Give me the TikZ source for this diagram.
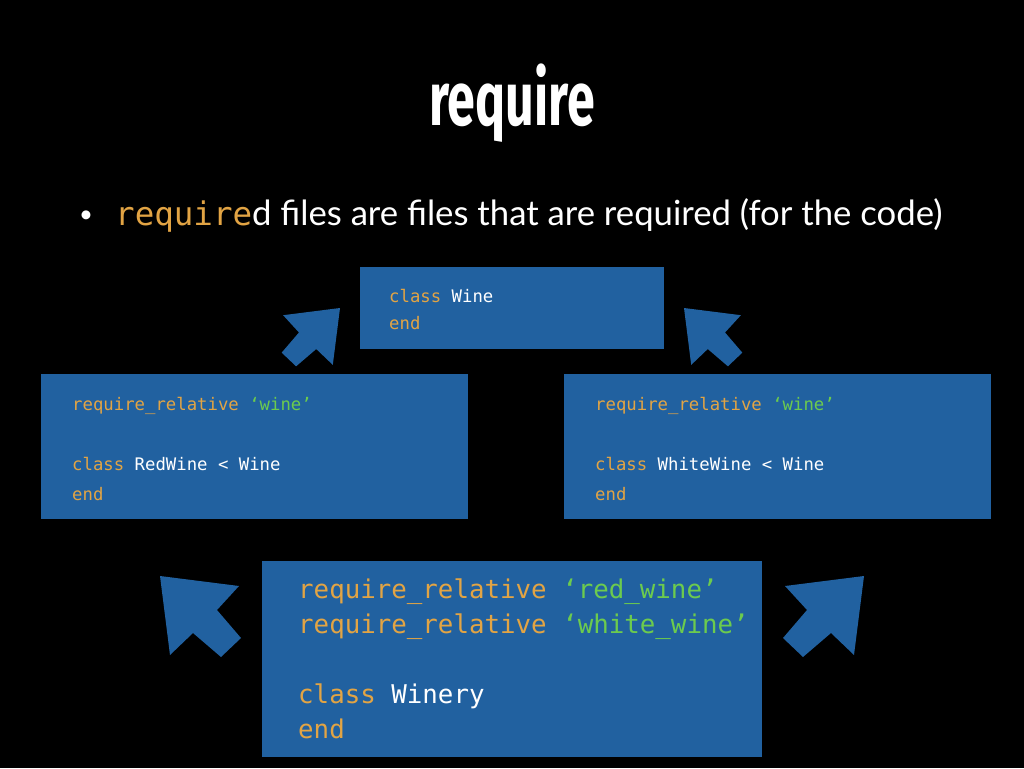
\documentclass[tikz,border=0pt]{standalone}
\usepackage{fontspec}
\setmainfont{Lato}
\newfontfamily\codefont{DejaVu Sans Mono}
\newfontfamily\titlefont[FakeStretch=0.66]{Fira Sans}
\usetikzlibrary{positioning}
\definecolor{boxblue}{HTML}{2161A0}
\definecolor{kw}{HTML}{E2A444}
\definecolor{str}{HTML}{6CCB4E}
\tikzset{
  codebox/.style={fill=boxblue, draw=none, inner sep=0pt, anchor=north west},
  code/.style={anchor=base west, align=left, inner sep=0pt, text=white},
  small/.style={font=\codefont\fontsize{17.3}{27}\selectfont},
  big/.style={font=\codefont\fontsize{25.8}{35}\selectfont},
  bigarrow/.pic={
    \fill[boxblue] (0,0) -- (79,10) -- (57,34) -- (81,62) -- (61,81) -- (33,57) -- (10,79) -- cycle;
  }
}
\newcommand{\kw}[1]{\textcolor{kw}{#1}}
\newcommand{\str}[1]{\textcolor{str}{#1}}

\begin{document}
\begin{tikzpicture}[x=1pt, y=-1pt]
  % Background
  \fill[black] (0,0) rectangle (1024,768);
  % Title and bullet
  \node[anchor=base, text=white, inner sep=0pt] (title) at (512,125)
    {\titlefont\bfseries\fontsize{76}{76}\selectfont require};
  \node[anchor=base, text=white, inner sep=0pt, font=\fontsize{24}{24}\selectfont] (dot) at (86,222) {•};
  \node[anchor=base west, text=white, inner sep=0pt, font=\fontsize{34.7}{35}\selectfont] (bullet) at (115,225)
    {\kw{\codefont\fontsize{32.5}{34}\selectfont require}d files are files that are required (for the code)};
  % Boxes
  \node[codebox, minimum width=304pt, minimum height=82pt] (wine) at (360,267) {};
  \node[codebox, minimum width=427pt, minimum height=145pt] (red) at (41,374) {};
  \node[codebox, minimum width=427pt, minimum height=145pt] (white) at (564,374) {};
  \node[codebox, minimum width=500pt, minimum height=196pt] (winery) at (262,561) {};
  % Code (base = last line)
  \node[code, small] (winecode) at (389,329) {\kw{class} Wine\\ \kw{end}};
  \node[code, small, font=\codefont\fontsize{17.3}{30}\selectfont] (redcode) at (72,500)
    {\kw{require\_relative} \str{‘wine’}\\[30pt] \kw{class} RedWine < Wine\\ \kw{end}};
  \node[code, small, font=\codefont\fontsize{17.3}{30}\selectfont] (whitecode) at (595,500)
    {\kw{require\_relative} \str{‘wine’}\\[30pt] \kw{class} WhiteWine < Wine\\ \kw{end}};
  \node[code, big] (winerycode) at (298,738)
    {\kw{require\_relative} \str{‘red\_wine’}\\ \kw{require\_relative} \str{‘white\_wine’}\\[35pt] \kw{class} Winery\\ \kw{end}};
  % Arrows
  \pic[scale=0.72, xscale=-1] at (340,308) {bigarrow};
  \pic[scale=0.72] at (684,308) {bigarrow};
  \pic at (160,576) {bigarrow};
  \pic[xscale=-1] at (864,576) {bigarrow};
\end{tikzpicture}
\end{document}
